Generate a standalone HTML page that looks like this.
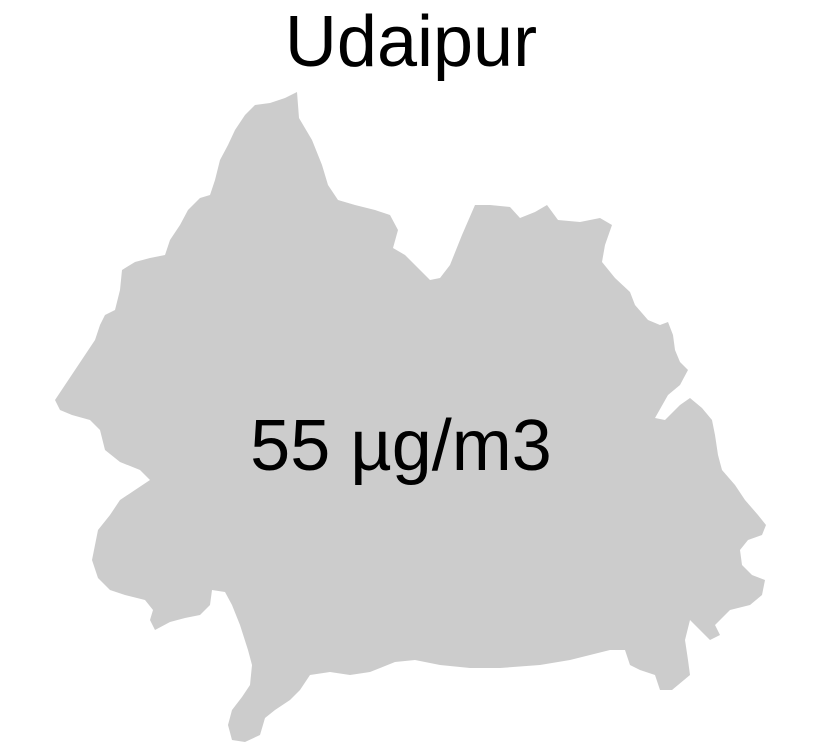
<!DOCTYPE html>
<html><head><meta charset="utf-8"><style>
html,body{margin:0;padding:0;background:#fff;}
svg{display:block;}
text{font-family:"Liberation Sans",Arial,sans-serif;fill:#000;}
</style></head><body>
<svg width="820" height="751" viewBox="0 0 820 751">
<polygon fill="#cccccc" points="297,92 299,118 312,140 322,165 328,185 338,200 355,205 375,210 390,215 398,230 393,248 405,255 418,268 430,280 440,278 450,265 462,235 475,205 490,205 510,207 520,218 535,212 547,205 558,220 580,222 600,218 612,225 605,245 602,262 615,278 630,292 635,305 648,320 660,325 668,322 673,335 675,350 680,362 688,370 680,385 668,395 655,418 665,420 680,405 690,398 702,408 712,420 715,435 718,455 722,470 735,485 745,500 758,515 766,525 762,535 748,540 740,550 742,565 752,575 765,580 762,595 750,605 730,610 722,618 715,625 720,635 710,640 700,630 690,620 685,640 688,660 690,675 672,690 660,690 655,675 640,670 630,665 625,650 610,650 590,655 570,660 540,665 500,668 470,668 440,665 415,660 395,662 370,672 350,675 330,672 310,675 300,690 290,700 275,710 265,718 260,735 245,742 232,740 228,725 232,710 242,697 250,685 252,665 248,650 240,625 232,605 225,592 212,590 210,605 200,615 185,618 170,622 155,630 150,620 153,610 145,600 125,595 110,590 98,578 92,560 95,545 98,530 110,515 120,500 135,490 150,480 140,470 120,462 105,450 100,430 90,420 72,415 60,410 55,400 65,385 75,370 85,355 95,340 100,325 105,315 115,310 120,290 122,270 135,262 150,258 165,255 170,240 180,225 188,210 200,198 210,195 215,180 220,160 228,145 235,130 245,115 255,105 270,103 285,98"/>
<text x="411" y="66" font-size="72" text-anchor="middle">Udaipur</text>
<text x="401" y="470" font-size="72" text-anchor="middle">55 µg/m3</text>
</svg>
</body></html>
